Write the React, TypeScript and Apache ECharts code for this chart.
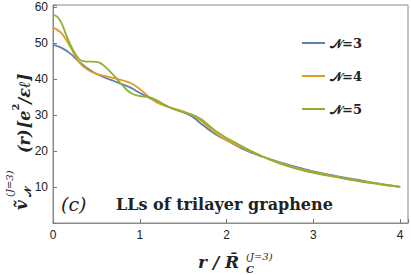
import React, { useEffect, useRef } from "react";
import * as echarts from "echarts";

// ---- data ----
const xN3 = [0, 0.1, 0.2, 0.3, 0.4, 0.5, 0.6, 0.7, 0.8, 0.9, 1.0, 1.2, 1.4, 1.6, 1.7, 1.8, 1.9, 2.0, 2.2, 2.4, 2.6, 2.8, 3.0, 3.25, 3.5, 3.75, 4.0];
const yN3 = [49.5, 48.6, 47.0, 44.8, 42.9, 41.4, 40.3, 39.4, 38.5, 37.5, 36.1, 33.6, 31.6, 29.6, 27.7, 25.8, 24.2, 23.0, 20.4, 18.5, 17.0, 15.6, 14.3, 13.1, 12.0, 10.9, 10.0];

const xN4 = [0, 0.1, 0.2, 0.3, 0.4, 0.5, 0.6, 0.7, 0.8, 0.9, 1.0, 1.1, 1.2, 1.3, 1.4, 1.5, 1.6, 1.7, 1.8, 1.9, 2.0, 2.1, 2.2, 2.4, 2.6, 2.8, 3.0, 3.25, 3.5, 3.75, 4.0];
const yN4 = [54.3, 52.6, 48.8, 44.6, 42.5, 41.4, 40.8, 40.2, 39.6, 38.8, 37.2, 35.1, 33.4, 32.4, 31.7, 31.0, 30.0, 28.5, 26.4, 24.5, 23.0, 21.8, 20.7, 18.6, 16.8, 15.3, 14.1, 12.9, 11.8, 10.9, 10.0];

const xN5 = [0, 0.05, 0.1, 0.15, 0.2, 0.25, 0.3, 0.35, 0.4, 0.5, 0.55, 0.6, 0.7, 0.8, 0.9, 1.0, 1.1, 1.2, 1.3, 1.4, 1.5, 1.6, 1.7, 1.8, 1.9, 2.0, 2.1, 2.2, 2.4, 2.6, 2.8, 3.0, 3.25, 3.5, 3.75, 4.0];
const yN5 = [57.8, 57.2, 55.4, 52.3, 49.5, 47.2, 45.5, 44.9, 44.8, 44.7, 44.3, 43.4, 41.0, 38.2, 36.0, 35.2, 35.0, 34.0, 32.6, 31.5, 30.8, 30.1, 28.9, 27.0, 25.1, 23.6, 22.3, 21.0, 18.6, 16.6, 15.1, 13.9, 12.8, 11.7, 10.8, 10.0];

const seriesNames = ["𝒩=3", "𝒩=4", "𝒩=5"];
const seriesColors = ["#5E81B5", "#E19C24", "#8FB032"];
const xTickLabels = [0, 1, 2, 3, 4];
const yTickLabels = [10, 20, 30, 40, 50, 60];

const pairs = (xs: number[], ys: number[]) => xs.map((x, i) => [x, ys[i]]);

const MATH = "DejaVu Serif";

function mt(text: string, x: number, y: number, size: number, italic: boolean, bold: boolean, family = MATH) {
  return {
    type: "text",
    x,
    y,
    style: {
      text,
      fontFamily: family,
      fontSize: size,
      fontStyle: italic ? "italic" : "normal",
      fontWeight: bold ? "bold" : "normal",
      fill: "#222",
      verticalAlign: "middle",
      align: "left",
    },
  };
}

export default function App() {
  const ref = useRef<HTMLDivElement>(null);
  useEffect(() => {
    const chart = echarts.init(ref.current!, null, { renderer: "svg" });
    const seriesData = [pairs(xN3, yN3), pairs(xN4, yN4), pairs(xN5, yN5)];
    chart.setOption({
      animation: false,
      grid: {
        left: 53,
        right: 3,
        top: 5,
        bottom: 52,
        show: true,
        borderColor: "#8a8a8a",
        borderWidth: 1,
      },
      legend: {
        orient: "vertical",
        left: 297,
        top: 30,
        itemWidth: 23,
        itemHeight: 2,
        itemGap: 17,
        icon: "rect",
        data: seriesNames,
        textStyle: {
          fontFamily: "DejaVu Serif",
          fontWeight: "bold",
          fontSize: 13,
          color: "#222",
          lineHeight: 16,
        },
      },
      xAxis: {
        type: "value",
        min: 0,
        max: 4.09,
        interval: 1,
        axisLine: { show: true, lineStyle: { color: "#8a8a8a" } },
        axisTick: { show: true, inside: true, length: 4, lineStyle: { color: "#777" } },
        splitLine: { show: false },
        axisLabel: {
          color: "#222",
          fontFamily: "Liberation Sans",
          fontSize: 12,
          margin: 6,
          formatter: (v: number) => (xTickLabels.includes(v) ? String(v) : ""),
        },
      },
      yAxis: {
        type: "value",
        min: 0,
        max: 60.5,
        interval: 10,
        axisLine: { show: true, lineStyle: { color: "#8a8a8a" } },
        axisTick: { show: true, inside: true, length: 4, lineStyle: { color: "#777" } },
        splitLine: { show: false },
        axisLabel: {
          color: "#222",
          fontFamily: "Liberation Sans",
          fontSize: 12,
          margin: 5,
          formatter: (v: number) => (yTickLabels.includes(v) ? String(v) : ""),
        },
      },
      series: seriesNames.map((name, i) => ({
        name,
        type: "line",
        data: seriesData[i],
        smooth: 0.35,
        showSymbol: false,
        symbol: "none",
        color: seriesColors[i],
        lineStyle: { width: 1.8, color: seriesColors[i] },
        z: 3 + i,
      })),
      graphic: [
        mt("(c)", 61, 204, 19, true, false),
        {
          type: "text",
          left: 116,
          top: 196,
          style: {
            text: "LLs of trilayer graphene",
            fontFamily: "DejaVu Serif",
            fontWeight: "bold",
            fontSize: 16,
            fill: "#222",
          },
        },
        // x-axis title: r / R̄_C^(J=3)
        {
          type: "group",
          children: [
            mt("r / R̄", 198, 262, 17, true, true),
            mt("(J=3)", 246, 256, 10, true, false),
            mt("C", 246, 269, 10, true, true),
          ],
        },
        // y-axis title: ṽ_𝒩^(J=3)(r)[e²/εℓ]
        {
          type: "group",
          x: 21,
          y: 210,
          rotation: Math.PI / 2,
          children: [
            mt("ṽ", 0, 0, 17, true, true),
            mt("𝒩", 13, 6, 10, false, true),
            mt("(J=3)", 13, -12, 10, true, false),
            {
              type: "text",
              x: 57,
              y: 0,
              style: {
                text: "{m|(r)}{g| }{m|[e}{s|2}{m|/εℓ]}",
                verticalAlign: "middle",
                align: "left",
                fill: "#222",
                rich: {
                  m: {
                    fontFamily: MATH,
                    fontSize: 16,
                    fontStyle: "italic",
                    fontWeight: "bold",
                    lineHeight: 22,
                    verticalAlign: "bottom",
                    fill: "#222",
                  },
                  g: { fontSize: 4, lineHeight: 22 },
                  s: {
                    fontFamily: MATH,
                    fontSize: 10,
                    fontWeight: "bold",
                    lineHeight: 22,
                    verticalAlign: "top",
                    fill: "#222",
                  },
                },
              },
            },
          ],
        },
      ],
    });
    return () => chart.dispose();
  }, []);
  return (
    <div
      ref={ref}
      style={{ position: "absolute", left: 0, top: 0, width: 411, height: 275 }}
    />
  );
}
